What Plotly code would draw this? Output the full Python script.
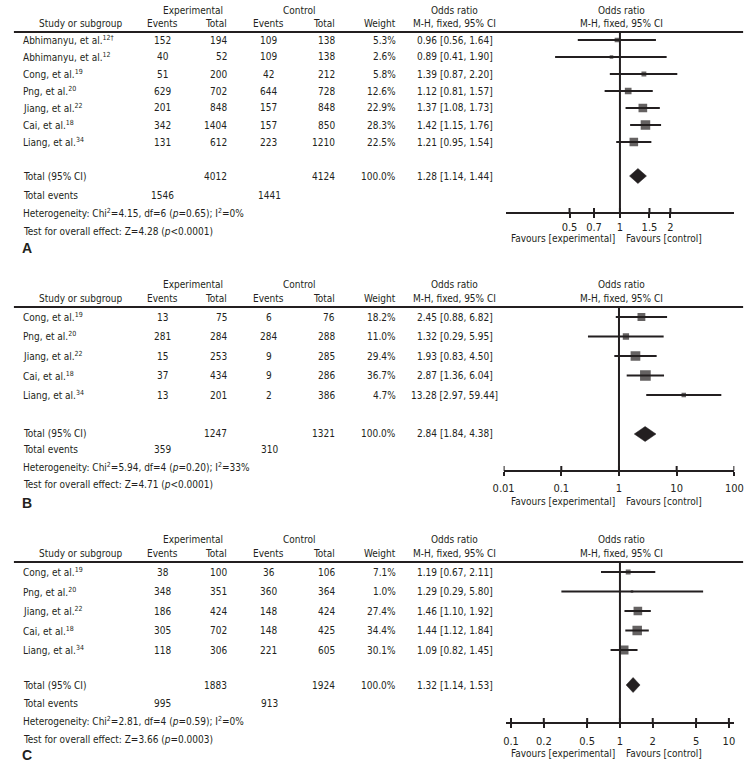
import math
import plotly.graph_objects as go

W, H = 756, 762
FONT = "DejaVu Sans Condensed, Liberation Sans Narrow, Arial Narrow, Roboto, sans-serif"
BOLDFONT = "Liberation Sans, Arial, sans-serif"
INK = "#231f20"
FS = 10

# ---------------- data ----------------
A_study = ["Abhimanyu, et al.<sup>12†</sup>", "Abhimanyu, et al.<sup>12</sup>", "Cong, et al.<sup>19</sup>",
           "Png, et al.<sup>20</sup>", "Jiang, et al.<sup>22</sup>", "Cai, et al.<sup>18</sup>", "Liang, et al.<sup>34</sup>"]
A_exp_events = [152, 40, 51, 629, 201, 342, 131]
A_exp_total = [194, 52, 200, 702, 848, 1404, 612]
A_ctl_events = [109, 109, 42, 644, 157, 157, 223]
A_ctl_total = [138, 138, 212, 728, 848, 850, 1210]
A_weight = [5.3, 2.6, 5.8, 12.6, 22.9, 28.3, 22.5]
A_or = [0.96, 0.89, 1.39, 1.12, 1.37, 1.42, 1.21]
A_lo = [0.56, 0.41, 0.87, 0.81, 1.08, 1.15, 0.95]
A_hi = [1.64, 1.90, 2.20, 1.57, 1.73, 1.76, 1.54]
A_pooled = [1.28, 1.14, 1.44]
A_het = "Heterogeneity: Chi<sup>2</sup>=4.15, df=6 (<i>p</i>=0.65); I<sup>2</sup>=0%"
A_test = "Test for overall effect: Z=4.28 (<i>p</i>&lt;0.0001)"
A_ticks = [0.5, 0.7, 1, 1.5, 2]
A_ticktext = ["0.5", "0.7", "1", "1.5", "2"]

B_study = ["Cong, et al.<sup>19</sup>", "Png, et al.<sup>20</sup>", "Jiang, et al.<sup>22</sup>",
           "Cai, et al.<sup>18</sup>", "Liang, et al.<sup>34</sup>"]
B_exp_events = [13, 281, 15, 37, 13]
B_exp_total = [75, 284, 253, 434, 201]
B_ctl_events = [6, 284, 9, 9, 2]
B_ctl_total = [76, 288, 285, 286, 386]
B_weight = [18.2, 11.0, 29.4, 36.7, 4.7]
B_or = [2.45, 1.32, 1.93, 2.87, 13.28]
B_lo = [0.88, 0.29, 0.83, 1.36, 2.97]
B_hi = [6.82, 5.95, 4.50, 6.04, 59.44]
B_pooled = [2.84, 1.84, 4.38]
B_het = "Heterogeneity: Chi<sup>2</sup>=5.94, df=4 (<i>p</i>=0.20); I<sup>2</sup>=33%"
B_test = "Test for overall effect: Z=4.71 (<i>p</i>&lt;0.0001)"
B_ticks = [0.01, 0.1, 1, 10, 100]
B_ticktext = ["0.01", "0.1", "1", "10", "100"]

C_study = ["Cong, et al.<sup>19</sup>", "Png, et al.<sup>20</sup>", "Jiang, et al.<sup>22</sup>",
           "Cai, et al.<sup>18</sup>", "Liang, et al.<sup>34</sup>"]
C_exp_events = [38, 348, 186, 305, 118]
C_exp_total = [100, 351, 424, 702, 306]
C_ctl_events = [36, 360, 148, 148, 221]
C_ctl_total = [106, 364, 424, 425, 605]
C_weight = [7.1, 1.0, 27.4, 34.4, 30.1]
C_or = [1.19, 1.29, 1.46, 1.44, 1.09]
C_lo = [0.67, 0.29, 1.10, 1.12, 0.82]
C_hi = [2.11, 5.80, 1.92, 1.84, 1.45]
C_pooled = [1.32, 1.14, 1.53]
C_het = "Heterogeneity: Chi<sup>2</sup>=2.81, df=4 (<i>p</i>=0.59); I<sup>2</sup>=0%"
C_test = "Test for overall effect: Z=3.66 (<i>p</i>=0.0003)"
C_ticks = [0.1, 0.2, 0.5, 1, 2, 5, 10]
C_ticktext = ["0.1", "0.2", "0.5", "1", "2", "5", "10"]

# ---------------- geometry (pixels) ----------------
panels = [
    dict(letter="A", study=A_study, ee=A_exp_events, et=A_exp_total, ce=A_ctl_events, ct=A_ctl_total,
         w=A_weight, orr=A_or, lo=A_lo, hi=A_hi, pooled=A_pooled, het=A_het, test=A_test,
         ticks=A_ticks, ticktext=A_ticktext,
         top=0, bottom=258, head1=10, head2=23, hline=32, row0=40, step=17, total=176, events=195,
         hety=213, testy=231, lettery=248, axis=213, fav=238, standoff=0,
         xr=(-0.683, 0.683), dom=(508, 743), k=1.6),
    dict(letter="B", study=B_study, ee=B_exp_events, et=B_exp_total, ce=B_ctl_events, ct=B_ctl_total,
         w=B_weight, orr=B_or, lo=B_lo, hi=B_hi, pooled=B_pooled, het=B_het, test=B_test,
         ticks=B_ticks, ticktext=B_ticktext,
         top=258, bottom=512, head1=284, head2=298, hline=307, row0=317, step=19.5, total=434, events=450,
         hety=467, testy=484, lettery=503, axis=471, fav=501, standoff=3,
         xr=(-2, 2), dom=(506, 743), k=1.6),
    dict(letter="C", study=C_study, ee=C_exp_events, et=C_exp_total, ce=C_ctl_events, ct=C_ctl_total,
         w=C_weight, orr=C_or, lo=C_lo, hi=C_hi, pooled=C_pooled, het=C_het, test=C_test,
         ticks=C_ticks, ticktext=C_ticktext,
         top=512, bottom=762, head1=539, head2=553, hline=562, row0=572, step=19.5, total=685, events=703,
         hety=721, testy=739, lettery=755, axis=723, fav=753, standoff=4,
         xr=(-1.05, 1.05), dom=(508, 743), k=1.45),
]

fig = go.Figure()
ann = []
shapes = []


def txt(x, y, s, anchor="center", size=FS, family=FONT):
    ann.append(dict(x=x / W, y=1 - y / H, xref="paper", yref="paper", text=s, showarrow=False,
                    xanchor=anchor, yanchor="middle", borderpad=0, borderwidth=0,
                    font=dict(family=family, size=size, color=INK)))


layout_axes = {}
for n, p in enumerate(panels, start=1):
    xa = "x" if n == 1 else f"x{n}"
    ya = "y" if n == 1 else f"y{n}"
    rows = [p["row0"] + i * p["step"] for i in range(len(p["study"]))]

    # column headers
    txt(187, p["head1"], "Experimental")
    txt(296, p["head1"], "Control")
    txt(456, p["head1"], "Odds ratio")
    txt(627, p["head1"], "Odds ratio")
    txt(71, p["head2"], "Study or subgroup")
    txt(156, p["head2"], "Events")
    txt(222, p["head2"], "Total", "right")
    txt(265, p["head2"], "Events")
    txt(333, p["head2"], "Total", "right")
    txt(395, p["head2"], "Weight", "right")
    txt(456, p["head2"], "M-H, fixed, 95% CI")
    txt(627, p["head2"], "M-H, fixed, 95% CI")
    shapes.append(dict(type="line", xref="paper", yref="paper", x0=3 / W, x1=752 / W,
                       y0=1 - p["hline"] / H, y1=1 - p["hline"] / H, line=dict(color=INK, width=2)))

    # study rows
    for i, y in enumerate(rows):
        txt(12, y, p["study"][i], "left")
        txt(156, y, str(p["ee"][i]))
        txt(222, y, str(p["et"][i]), "right")
        txt(265, y, str(p["ce"][i]))
        txt(333, y, str(p["ct"][i]), "right")
        txt(395, y, f"{p['w'][i]:.1f}%", "right")
        txt(456, y, f"{p['orr'][i]:.2f} [{p['lo'][i]:.2f}, {p['hi'][i]:.2f}]")

    # summary rows
    po, plo, phi = p["pooled"]
    txt(12, p["total"], "Total (95% CI)", "left")
    txt(222, p["total"], str(sum(p["et"])), "right")
    txt(333, p["total"], str(sum(p["ct"])), "right")
    txt(395, p["total"], f"{sum(p['w']):.1f}%", "right")
    txt(456, p["total"], f"{po:.2f} [{plo:.2f}, {phi:.2f}]")
    txt(12, p["events"], "Total events", "left")
    txt(156, p["events"], str(sum(p["ee"])))
    txt(266, p["events"], str(sum(p["ce"])))
    txt(12, p["hety"], p["het"], "left")
    txt(12, p["testy"], p["test"], "left")
    txt(11, p["lettery"], f"<b>{p['letter']}</b>", "left", size=14, family=BOLDFONT)
    txt(620, p["fav"], "Favours [experimental]", "right")
    txt(632, p["fav"], "Favours [control]", "left")

    # CI lines
    cx, cy = [], []
    for i, y in enumerate(rows):
        cx += [p["lo"][i], p["hi"][i], None]
        cy += [y, y, None]
    fig.add_trace(go.Scatter(x=cx, y=cy, mode="lines", line=dict(color=INK, width=1.8),
                             xaxis=xa, yaxis=ya, hoverinfo="skip", showlegend=False))
    # squares sized by weight
    fig.add_trace(go.Scatter(x=p["orr"], y=rows, mode="markers",
                             marker=dict(symbol="square", color=INK,
                                         size=[p["k"] * math.sqrt(v) + 1 for v in p["w"]],
                                         line=dict(width=0)),
                             xaxis=xa, yaxis=ya, showlegend=False))
    # pooled diamond
    h = 7.5
    yt = p["total"]
    fig.add_trace(go.Scatter(x=[plo, po, phi, po, plo], y=[yt, yt - h, yt, yt + h, yt], mode="lines",
                             fill="toself", fillcolor=INK, line=dict(color=INK, width=0.5),
                             xaxis=xa, yaxis=ya, showlegend=False))
    # line of no effect
    fig.add_trace(go.Scatter(x=[1, 1], y=[p["hline"], p["axis"]], mode="lines",
                             line=dict(color=INK, width=2), xaxis=xa, yaxis=ya, showlegend=False,
                             hoverinfo="skip"))
    # upper halves of the crossing ticks
    tx, ty = [], []
    for t in p["ticks"]:
        tx += [t, t, None]
        ty += [p["axis"] - 5, p["axis"], None]
    fig.add_trace(go.Scatter(x=tx, y=ty, mode="lines", line=dict(color=INK, width=2),
                             xaxis=xa, yaxis=ya, showlegend=False, hoverinfo="skip"))

    layout_axes["xaxis" if n == 1 else f"xaxis{n}"] = dict(
        type="log", range=list(p["xr"]), domain=[p["dom"][0] / W, p["dom"][1] / W],
        anchor="free", position=1 - p["axis"] / H, showgrid=False, zeroline=False,
        showline=True, linecolor=INK, linewidth=2, ticks="outside", ticklen=4, tickwidth=2,
        tickcolor=INK, tickvals=p["ticks"], ticktext=p["ticktext"], ticklabelstandoff=p["standoff"],
        tickfont=dict(family=FONT, size=FS + 1, color=INK), fixedrange=True)
    layout_axes["yaxis" if n == 1 else f"yaxis{n}"] = dict(
        range=[p["bottom"], p["top"]], domain=[1 - p["bottom"] / H, 1 - p["top"] / H],
        anchor=xa, visible=False, showgrid=False, zeroline=False, fixedrange=True)

fig.update_layout(
    width=W, height=H, autosize=False,
    margin=dict(l=0, r=0, t=0, b=0),
    paper_bgcolor="white", plot_bgcolor="rgba(0,0,0,0)",
    annotations=ann, shapes=shapes, showlegend=False,
    **layout_axes,
)

fig.write_html("out.html",
               config={"displayModeBar": False, "responsive": False, "staticPlot": True},
               default_width=f"{W}px", default_height=f"{H}px",
               post_script="document.body.style.margin='0';document.body.style.overflow='hidden';")
